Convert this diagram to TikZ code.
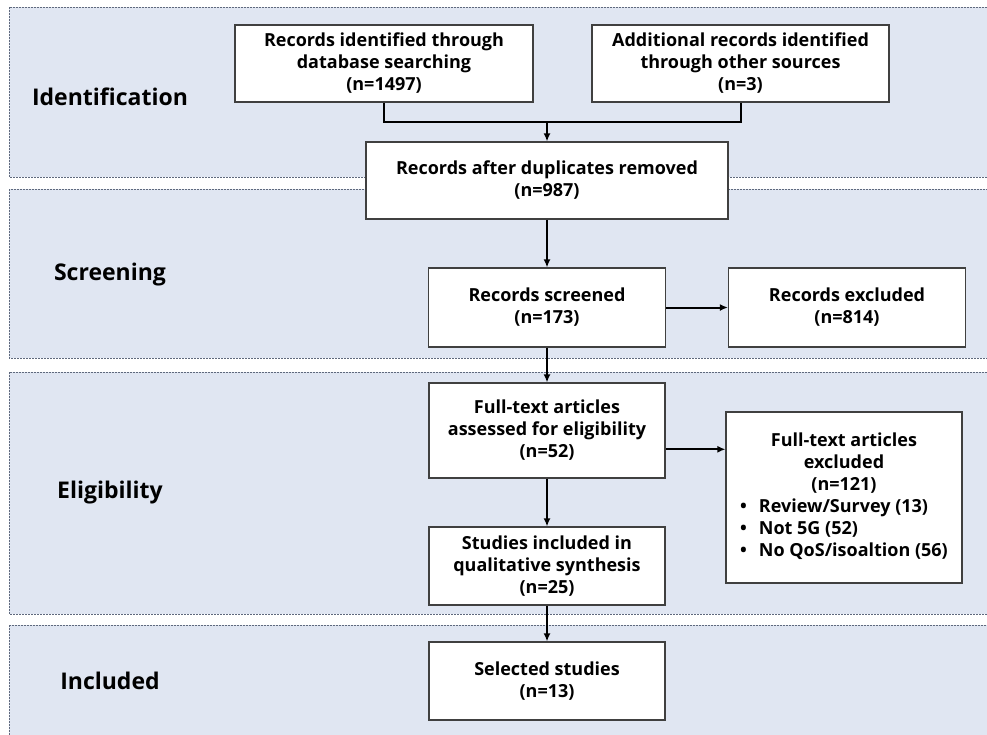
\documentclass[tikz,border=0pt]{standalone}
\usepackage{fontspec}
\setmainfont{Open Sans}
\usetikzlibrary{positioning, arrows.meta}
\definecolor{phasefill}{RGB}{224,230,242}
\definecolor{phaseline}{RGB}{95,105,125}
\definecolor{boxline}{RGB}{64,64,64}
\tikzset{
box/.style={draw=boxline, line width=1.2pt, fill=white, align=center, inner sep=2pt,
  font=\bfseries\fontsize{18}{22}\selectfont}, % the white boxes of the flow
phase/.style={fill=phasefill, draw=phaseline, line width=0.6pt, dash pattern=on 2pt off 1pt}, % shaded bands behind
phaselabel/.style={font=\bfseries\fontsize{23}{26}\selectfont}, % name of each band
flow/.style={-{Latex[length=8pt, width=7pt]}, line width=2pt}, % every connector
}

\begin{document}
\begin{tikzpicture}[x=1pt, y=-1pt, on grid]
    \useasboundingbox (0,0) rectangle (987,734);
    \clip (0,0) rectangle (987,734);
    \fill[white] (0,0) rectangle (987,734);

    % bands
    \draw[phase] (9,7) rectangle (1000,177);
    \draw[phase] (9,189) rectangle (1000,358);
    \draw[phase] (9,372) rectangle (1000,614);
    \draw[phase] (9,625) rectangle (1000,745);

    \node[phaselabel] (ident) at (110,97) {Identification};
    \node[phaselabel] (screen) at (110,275) {Screening};
    \node[phaselabel] (elig) at (110,493) {Eligibility};
    \node[phaselabel] (incl) at (110,681) {Included};

    % boxes
    \node[box, minimum width=362pt, minimum height=77pt] (dup) at (547,180.5) {Records after duplicates removed\\(n=987)};
    \node[box, minimum width=298pt, minimum height=77pt, above left=117pt and 163pt of dup] (dbase) {Records identified through\\database searching\\(n=1497)};
    \node[box, minimum width=297pt, minimum height=77pt, above right=117pt and 193.5pt of dup] (other) {Additional records identified\\through other sources\\(n=3)};
    \node[box, minimum width=237pt, minimum height=79pt, below=127pt of dup] (screened) {Records screened\\(n=173)};
    \node[box, minimum width=237pt, minimum height=79pt, right=300pt of screened] (recexcl) {Records excluded\\(n=814)};
    \node[box, minimum width=236pt, minimum height=95pt, below=123pt of screened] (fulltext) {Full-text articles\\assessed for eligibility\\(n=52)};
    \node[box, minimum width=236pt, minimum height=171pt, below right=67pt and 297pt of fulltext] (ftexcl) {Full-text articles\\excluded\\(n=121)\\
      \begin{tabular}[t]{@{}l@{}}
      \textbullet\hspace{12pt}Review/Survey (13)\\
      \textbullet\hspace{12pt}Not 5G (52)\\
      \textbullet\hspace{12pt}No QoS/isoaltion (56)
      \end{tabular}};
    \node[box, minimum width=236pt, minimum height=78pt, below=135.5pt of fulltext] (qualit) {Studies included in\\qualitative synthesis\\(n=25)};
    \node[box, minimum width=236pt, minimum height=78pt, below=115pt of qualit] (selected) {Selected studies\\(n=13)};

    % connectors
    \coordinate (join) at (547,122);
    \draw[line width=2pt]
    (dbase) |- (join)
    (other) |- (join);

    \draw[flow] (join) -- (dup);
    \draw[flow] (dup) -- (screened);
    \draw[flow] (screened) -- (recexcl);
    \draw[flow] (screened) -- (fulltext);
    \draw[flow] (fulltext) -- (qualit);
    \draw[flow] (qualit) -- (selected);
    \draw[flow] (fulltext.-9) -- (fulltext.-9 -| ftexcl.west);

\end{tikzpicture}
\end{document}
